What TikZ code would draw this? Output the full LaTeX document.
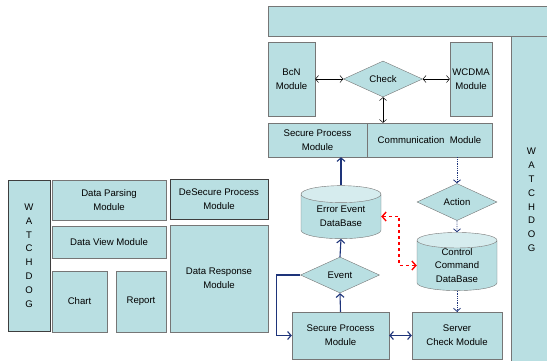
\documentclass[tikz,border=0pt]{standalone}
\usepackage{fontspec}
\setmainfont{Liberation Sans}
\usepackage{tikz}
\usetikzlibrary{calc}
\usetikzlibrary{arrows.meta}
\usetikzlibrary{shapes.geometric}
\usetikzlibrary{positioning}
\definecolor{modfill}{RGB}{185,223,226}
\definecolor{modtop}{RGB}{214,236,238}
\definecolor{modline}{RGB}{118,118,118}
\definecolor{darkline}{RGB}{62,62,62}
\definecolor{navy}{RGB}{30,52,122}
\tikzset{modbox/.style={rectangle,draw=modline,fill=modfill,inner sep=0pt,align=center}}
\tikzset{hardbox/.style={modbox,draw=darkline,line width=0.9pt}}
\tikzset{decide/.style={diamond,draw=modline,fill=modfill,inner sep=0pt,aspect=2.2}}
\tikzset{dbase/.style={cylinder,shape border rotate=90,aspect=0.35,draw=modline,
  cylinder uses custom fill,cylinder body fill=modfill,cylinder end fill=modtop,
  inner sep=0pt,align=center}}
\tikzset{bothway/.style={{Straight Barb[length=3pt,width=7pt]}-{Straight Barb[length=3pt,width=7pt]},black,line width=0.5pt}}
\tikzset{flow/.style={-{Straight Barb[length=3.5pt,width=8pt]},navy,line width=1.1pt}}
\tikzset{flowboth/.style={{Straight Barb[length=3.5pt,width=8pt]}-{Straight Barb[length=3.5pt,width=8pt]},navy,line width=1.1pt}}
\tikzset{cmdflow/.style={-{Straight Barb[length=3pt,width=7pt]},navy,line width=0.8pt,densely dotted}}
\tikzset{errlink/.style={{Straight Barb[length=4pt,width=9pt]}-{Straight Barb[length=4pt,width=9pt]},red,line width=1.4pt,dashed}}

\begin{document}
\begin{tikzpicture}[x=1pt,y=-1pt,font=\fontsize{9.6}{13.8}\selectfont]
  \useasboundingbox (0,0) rectangle (547,360);
  \clip (0,0) rectangle (547,360);
  % client side
  \node[hardbox, minimum width=42, minimum height=151] (wdl) at (29,255.5) {W\\A\\T\\C\\H\\D\\O\\G};
  \node[modbox, minimum width=114, minimum height=40] (parse) at (109,200) {Data Parsing\\Module};
  \node[hardbox, minimum width=98, minimum height=40] (desec) at (219,199) {DeSecure Process\\Module};
  \node[modbox, minimum width=114, minimum height=32] (dview) at (109,242) {Data View Module};
  \node[modbox, minimum width=98, minimum height=107] (dresp) at (219,278.5) {Data Response\\Module};
  \node[modbox, minimum width=55, minimum height=61] (chart) at (79.5,301.5) {Chart};
  \node[modbox, minimum width=50, minimum height=61] (report) at (141,301.5) {Report};

  % server side
  \node[modbox, minimum width=284, minimum height=30] (bar) at (410,21) {};
  \node[modbox, minimum width=41, minimum height=328] (wdr) at (531.5,200) {W\\A\\T\\C\\H\\D\\O\\G};
  \node[modbox, minimum width=47, minimum height=74] (bcn) at (291.5,79) {BcN\\Module};
  \node[decide, minimum width=79, minimum height=36] (check) at (383,79) {Check};
  \node[modbox, minimum width=42, minimum height=74] (wcdma) at (471,79) {WCDMA\\Module};
  \node[modbox, minimum width=99, minimum height=34] (spt) at (317.5,140) {Secure Process\\Module};
  \node[modbox, minimum width=125, minimum height=34] (comm) at (429.5,140) {Communication\ \ Module};
  \node[dbase, minimum width=80, minimum height=53] (edb) at (341,216.5) {Error Event\\DataBase};
  \node[decide, minimum width=80, minimum height=37] (action) at (457,202) {Action};
  \node[dbase, minimum width=80, minimum height=55] (ccdb) at (457,265.5) {Control\\Command\\DataBase};
  \node[decide, minimum width=79, minimum height=36] (event) at (340,275) {Event};
  \node[modbox, minimum width=97, minimum height=47] (spb) at (340.5,335.5) {Secure Process\\Module};
  \node[modbox, minimum width=90, minimum height=47] (server) at (457,335.5) {Server\\Check Module};

  \draw[bothway] (bcn.east) -- (check.west);
  \draw[bothway] (check.east) -- (wcdma.west);
  \draw[bothway] (check.south) -- (check.south |- comm.north);

  \draw[flow] (edb.north) -- (edb.north |- spt.south);
  \draw[flow] (event.north) -- (edb.south);
  \draw[flow] (spb.north) -- (event.south);
  \draw[flow] (event.west) -- ++(-24,0) |- (spb.west);
  \draw[flowboth] (spb.east) -- (server.west);

  \draw[cmdflow] (comm.south -| action.north) -- (action.north);
  \draw[cmdflow] (action.south) -- (ccdb.north);
  \draw[cmdflow] (ccdb.south) -- (server.north);

  \draw[errlink] (edb.east) -| ($(edb.east)!0.5!(ccdb.west)$) |- (ccdb.west);
\end{tikzpicture}
\end{document}
